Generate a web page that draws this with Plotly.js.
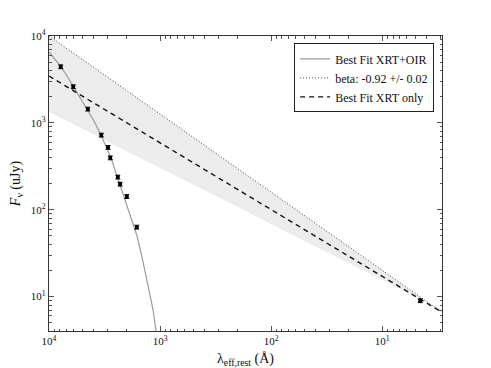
<!DOCTYPE html>
<html lang="en">
<head>
    <meta charset="UTF-8"/>
    <title>SED fit</title>
    <script src="https://cdn.plot.ly/plotly-3.0.1.min.js"></script>
    <style>
    body { margin: 0; background: white; }
    #sed { width: 491px; height: 368px; }
    </style>
</head>
<body>
    <div id="sed"></div>
    <script>
        // best fit XRT+OIR (extincted power law)
        var fitLam  = [10000, 8830, 7800, 6880, 6080, 5260, 4550, 3935, 3405, 3065, 2760, 2440, 2245, 1980, 1785, 1610, 1422, 1282, 1156, 1087, 1064];
        var fitFlux = [6550, 5430, 4400, 3460, 2655, 1980, 1443, 1050, 723, 541, 393, 244, 177, 116, 75.9, 49.6, 24.9, 13.5, 6.97, 3.99, 3.15];

        // beta: -0.92 +/- 0.02 (dotted) and XRT only (dashed)
        var lineLam    = [10000, 2.9];
        var betaFlux   = [10000, 6.6];
        var xrtFlux    = [3460, 6.6];
        var bandLow    = [1330, 7.0];

        // photometry
        var obsLam  = [7850, 6040, 4480, 3380, 2940, 2805, 2405, 2290, 1995, 1622, 4.55];
        var obsFlux = [4430, 2608, 1442, 723, 522, 396, 238, 197, 142, 63.1, 8.97];

        var serif = 'Liberation Serif, Times New Roman, serif';

        //=============================================================
        // traces

        var band = {
            x: lineLam.concat(lineLam.slice().reverse()),
            y: betaFlux.concat(bandLow.slice().reverse()),
            type: 'scatter',
            mode: 'lines',
            fill: 'toself',
            fillcolor: '#ececec',
            line: { width: 0 },
            hoverinfo: 'skip',
            showlegend: false
        };

        var fit = {
            x: fitLam, y: fitFlux,
            type: 'scatter', mode: 'lines',
            name: 'Best Fit XRT+OIR',
            line: { color: '#9a9a9a', width: 1.2 }
        };

        var beta = {
            x: lineLam, y: betaFlux,
            type: 'scatter', mode: 'lines',
            name: 'beta: -0.92 +/- 0.02',
            line: { color: '#444', width: 1, dash: '1px,2px' }
        };

        var xrt = {
            x: lineLam, y: xrtFlux,
            type: 'scatter', mode: 'lines',
            name: 'Best Fit XRT only',
            line: { color: '#111', width: 1.4, dash: '5px,4px' }
        };

        var obs = {
            x: obsLam, y: obsFlux,
            type: 'scatter', mode: 'markers',
            marker: { symbol: 'square', size: 3.5, color: '#000' },
            error_y: { type: 'percent', value: 5, color: '#000', thickness: 1, width: 2.5 },
            error_x: { type: 'percent', value: 2.5, color: '#000', thickness: 1, width: 1.5 },
            showlegend: false
        };

        var data = [band, fit, beta, xrt, obs];

        //=============================================================
        // layout

        function minorVals(lo, hi) {
            var v = [];
            for (var d = lo; d < hi; d++) {
                for (var k = 2; k <= 9; k++) v.push(k * Math.pow(10, d));
            }
            return v;
        }

        var axisCommon = {
            type: 'log',
            showgrid: false,
            zeroline: false,
            showline: true,
            linecolor: '#333',
            linewidth: 1.2,
            mirror: 'ticks',
            ticks: 'inside',
            ticklen: 5,
            tickcolor: '#555',
            tickfont: { family: serif, size: 11, color: '#111' },
            tickmode: 'array',
            tickvals: [10, 100, 1000, 10000],
            ticktext: ['10<sup>1</sup>', '10<sup>2</sup>', '10<sup>3</sup>', '10<sup>4</sup>']
        };

        var layout = {
            width: 491,
            height: 368,
            margin: { l: 49, r: 49, t: 36, b: 37 },
            paper_bgcolor: 'white',
            plot_bgcolor: 'white',
            font: { family: serif, color: '#111' },
            xaxis: Object.assign({}, axisCommon, {
                range: [4, 0.462],
                minor: { ticks: 'inside', ticklen: 2.5, tickcolor: '#555', tickmode: 'array', tickvals: minorVals(0, 4) },
                title: { text: 'λ<sub>eff,rest</sub> (Å)', font: { family: serif, size: 14 }, standoff: 8 }
            }),
            yaxis: Object.assign({}, axisCommon, {
                range: [0.604, 4],
                minor: { ticks: 'inside', ticklen: 2.5, tickcolor: '#555', tickmode: 'array', tickvals: minorVals(0, 4) },
                title: { text: '<i>F</i><sub>ν</sub> (uJy)', font: { family: serif, size: 14 }, standoff: 6 }
            }),
            legend: {
                x: 0.98, y: 0.975,
                xanchor: 'right', yanchor: 'top',
                bgcolor: 'white',
                bordercolor: '#222',
                borderwidth: 1,
                font: { family: serif, size: 12, color: '#111' },
                itemwidth: 30,
                tracegroupgap: 0
            },
            showlegend: true
        };

        Plotly.newPlot('sed', data, layout, { staticPlot: true });
    </script>
</body>
</html>
